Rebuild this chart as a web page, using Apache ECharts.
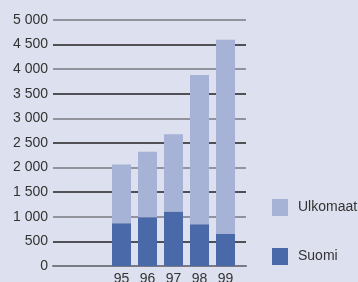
<!DOCTYPE html>
<html>
<head>
    <meta charset="utf-8">
    <title>ECharts</title>
    <script src="https://cdn.jsdelivr.net/npm/echarts@6/dist/echarts.min.js"></script>
</head>
<body style="margin:0;background:#dde0ee;">
    <div id="main" style="width: 358px;height:282px;"></div>
    <script type="text/javascript">
        var years = ['95', '96', '97', '98', '99']
        var suomi = [870, 990, 1110, 850, 650]
        var ulkomaat = [1195, 1330, 1570, 3030, 3950]
        var yTicks = [0, 500, 1000, 1500, 2000, 2500, 3000, 3500, 4000, 4500, 5000]

        var fmt = function (v) {
            return String(v).replace(/\B(?=(\d{3})+(?!\d))/g, ' ')
        }

        var myChart = echarts.init(document.getElementById('main'))
        // grid 0: gridlines and y labels; grid 1: the bars (narrower, offset right)
        var option = {
            backgroundColor: '#dde0ee',
            textStyle: { fontFamily: 'Liberation Sans, Arial, sans-serif' },
            grid: [
                { left: 53, right: 112, top: 20, bottom: 16, outerBoundsMode: 'none' },
                { left: 108.5, right: 119.5, top: 20, bottom: 16, outerBoundsMode: 'none' }
            ],
            legend: {
                orient: 'vertical',
                left: 272,
                top: 199,
                padding: 0,
                itemWidth: 16,
                itemHeight: 17,
                itemGap: 32,
                icon: 'rect',
                data: ['Ulkomaat', 'Suomi'],
                textStyle: { fontSize: 14, color: '#333', padding: [0, 0, 0, 5] }
            },
            xAxis: [{
                gridIndex: 0,
                type: 'value',
                min: 0,
                max: 1,
                splitLine: { show: false },
                axisTick: { show: false },
                axisLabel: { show: false },
                axisLine: { show: true, lineStyle: { color: '#7a7a82', width: 2 } }
            }, {
                gridIndex: 1,
                type: 'category',
                data: years,
                axisLine: { show: false },
                axisTick: { show: false },
                axisLabel: { fontSize: 14, color: '#333', margin: 6 }
            }],
            yAxis: [{
                gridIndex: 0,
                type: 'value',
                min: yTicks[0],
                max: yTicks[yTicks.length - 1],
                interval: 500,
                axisLine: { show: false },
                axisTick: { show: false },
                axisLabel: { fontSize: 14, color: '#333', margin: 5, formatter: fmt },
                splitLine: { lineStyle: { color: ['#7a7a82', '#222'], width: 1.5 } }
            }, {
                gridIndex: 1,
                type: 'value',
                min: yTicks[0],
                max: yTicks[yTicks.length - 1],
                show: false
            }],
            series: [{
                name: 'Suomi',
                type: 'bar',
                xAxisIndex: 1,
                yAxisIndex: 1,
                stack: 'total',
                barWidth: 19,
                itemStyle: { color: '#4a69a8' },
                data: suomi
            }, {
                name: 'Ulkomaat',
                type: 'bar',
                xAxisIndex: 1,
                yAxisIndex: 1,
                stack: 'total',
                barWidth: 19,
                itemStyle: { color: '#a6b3d6' },
                data: ulkomaat
            }]
        }
        myChart.setOption(option)
    </script>
</body>
</html>
